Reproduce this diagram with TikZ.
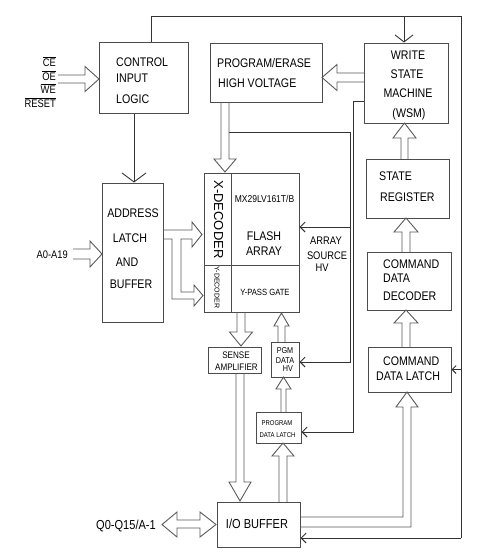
\documentclass[tikz,border=0pt]{standalone}
\usepackage{fontspec}
\usepackage{graphicx}
\setmainfont{Liberation Sans}[FakeStretch=0.85]
\newfontfamily\plainsf{Liberation Sans}
\usetikzlibrary{arrows.meta}
\newcommand\fsz[1]{\fontsize{#1}{#1}\selectfont}
\newcommand\vhollow[6]{\draw[harrow] ({#1-#5},#2) -- ({#1-#5},#3) -- ({#1-#6},#3) -- (#1,#4) -- ({#1+#6},#3) -- ({#1+#5},#3) -- ({#1+#5},#2);}
\newcommand\hhollow[6]{\draw[harrow] (#2,{#1-#5}) -- (#3,{#1-#5}) -- (#3,{#1-#6}) -- (#4,#1) -- (#3,{#1+#6}) -- (#3,{#1+#5}) -- (#2,{#1+#5});}
\tikzset{
  box/.style={draw=black!70, line width=1pt, inner sep=0pt},
  divline/.style={draw=black!70, line width=1pt},
  harrow/.style={draw=black!65, line width=0.9pt, line join=miter},
  conn/.style={draw=black!80, line width=0.9pt},
  tbig/.style={-{Straight Barb[length=9pt,width=24pt]}},
  tmid/.style={-{Straight Barb[length=7pt,width=18pt]}},
  tsmall/.style={-{Straight Barb[length=5pt,width=10pt]}},
  ttiny/.style={-{Straight Barb[length=4pt,width=8pt]}},
  tb/.style={inner sep=0pt, anchor=base, font=\fsz{12.5}},
  tw/.style={inner sep=0pt, anchor=base west, font=\fsz{12.5}},
  te/.style={inner sep=0pt, anchor=base east, font=\fsz{11}},
}
\begin{document}
\begin{tikzpicture}[x=1pt,y=-1pt]
\useasboundingbox (0,0) rectangle (490,552);

% boxes
\node[box, minimum width=89pt, minimum height=71pt] (ctrl) at (143.5,77.5) {};
\node[box, minimum width=112pt, minimum height=59pt] (pe) at (266,72.5) {};
\node[box, minimum width=84pt, minimum height=80pt] (wsm) at (406,83) {};
\node[box, minimum width=83pt, minimum height=59pt] (sreg) at (407.5,188.5) {};
\node[box, minimum width=84pt, minimum height=58pt] (cdd) at (409,281) {};
\node[box, minimum width=83pt, minimum height=45pt] (cdl) at (409.5,369.5) {};
\node[box, minimum width=61pt, minimum height=139pt] (addr) at (132.5,252.5) {};
\node[box, minimum width=95pt, minimum height=139pt] (flash) at (251.5,242.5) {};
\draw[divline] (231,173) -- (231,312);
\draw[divline] (204,265) -- (299,265);
\node[box, minimum width=53pt, minimum height=26pt] (sense) at (234.5,360) {};
\node[box, minimum width=28pt, minimum height=35pt] (pgm) at (285,359.5) {};
\node[box, minimum width=45pt, minimum height=31pt] (pdl) at (278.5,427.5) {};
\node[box, minimum width=83pt, minimum height=45pt] (io) at (258.5,524.5) {};

% texts
\node[te] (ce) at (56,66) {$\overline{\mbox{CE}}$};
\node[te] (oe) at (56,80) {$\overline{\mbox{OE}}$};
\node[te] (we) at (56,93) {$\overline{\mbox{WE}}$};
\node[te] (reset) at (56,107) {$\overline{\mbox{RESET}}$};

\node[tw] (t1) at (116,66.5) {CONTROL};
\node[tw] (t2) at (116,82.5) {INPUT};
\node[tw] (t3) at (116,103.5) {LOGIC};

\node[tw] (t4) at (217,67.5) {PROGRAM/ERASE};
\node[tw] (t5) at (218,87.5) {HIGH VOLTAGE};

\node[tb] (t6) at (408,59.5) {WRITE};
\node[tb] (t7) at (407,78.5) {STATE};
\node[tb] (t8) at (408,97.5) {MACHINE};
\node[tb] (t9) at (409,117.5) {(WSM)};

\node[tw] (t10) at (379,180.5) {STATE};
\node[tw] (t11) at (380,201.5) {REGISTER};

\node[tw] (t12) at (383,268.5) {COMMAND};
\node[tw] (t13) at (383,282.5) {DATA};
\node[tw] (t14) at (383,300.5) {DECODER};

\node[tw] (t15) at (383,365.5) {COMMAND};
\node[tw] (t16) at (376,380.5) {DATA LATCH};

\node[tb] (t17) at (133,217.5) {ADDRESS};
\node[tb] (t18) at (130,242.5) {LATCH};
\node[tb] (t19) at (127,266.5) {AND};
\node[tb] (t20) at (131,288.5) {BUFFER};

\node[te] (a019) at (68,258) {A0-A19};

\node[tb, font=\fsz{10}] (t21) at (264.5,202.5) {MX29LV161T/B};
\node[tb] (t22) at (264,240.5) {FLASH};
\node[tb] (t23) at (264,255.5) {ARRAY};
\node[tb, font=\fsz{9}] (t24) at (265,295) {Y-PASS GATE};
\node[inner sep=0pt, rotate=-90, font=\plainsf\fsz{13}] (xdec) at (218.5,219.5) {X-DECODER};
\node[inner sep=0pt, rotate=-90, font=\plainsf\fsz{7}] (ydec) at (217,287.5) {Y-DECODER};

\node[tb, font=\fsz{11}] (t25) at (326,244) {ARRAY};
\node[tb, font=\fsz{11}] (t26) at (327,259) {SOURCE};
\node[tb, font=\fsz{11}] (t27) at (322,271) {HV};

\node[tb, font=\fsz{9.5}] (t28) at (236,358.5) {SENSE};
\node[tb, font=\fsz{9.5}] (t29) at (236.5,370.5) {AMPLIFIER};

\node[tb, font=\fsz{8.5}] (t30) at (285,353) {PGM};
\node[tb, font=\fsz{8.5}] (t31) at (285,363) {DATA};
\node[tb, font=\fsz{8.5}] (t32) at (288,371) {HV};

\node[tb, font=\fsz{7}] (t33) at (277,425.5) {PROGRAM};
\node[tb, font=\fsz{7}] (t34) at (277.5,437.5) {DATA LATCH};

\node[tb, font=\fsz{13}] (t35) at (257,528) {I/O BUFFER};
\node[te, font=\fsz{13}] (q0) at (156,529.5) {Q0-Q15/A-1};

% thin connectors
\coordinate (tr) at (461,16);
\coordinate (br) at (461,538);
\draw[conn, tbig] (ctrl.south -| 134,0) -- (addr.north -| 134,0);
\draw[conn] ([xshift=7.5pt]ctrl.north) |- (tr) -- (br);
\draw[conn, tsmall] (br) -- (br -| io.east);
\draw[conn, tmid] (tr -| 404,0) -- (wsm.north -| 404,0);
\draw[conn, ttiny] (cdl.east -| br) -- (cdl.east);

\coordinate (pv1) at (229,132);
\coordinate (pv2) at (350,132);
\coordinate (pv3) at (350,362);
\coordinate (pas) at (350,227);
\draw[conn, tsmall] (pv1) -- (pv2) -- (pv3) -- (pv3 -| pgm.east);
\draw[conn, tsmall] (pas) -- (pas -| flash.east);

\coordinate (wv1) at (353,101);
\coordinate (wv2) at (353,432);
\draw[conn, tsmall] (wv1 -| wsm.west) -- (wv1) -- (wv2) -- (wv2 -| pdl.east);

% hollow arrows
\hhollow{79}{58}{85}{99}{4}{12.5}
\hhollow{254}{73}{90}{102}{5}{13}
\hhollow{77.5}{364}{337}{322}{4.5}{13}
\vhollow{225}{102}{159}{172}{4}{11}
\vhollow{241}{312}{332}{346}{4}{11.5}
\vhollow{281.5}{342}{326}{313}{3.5}{7.5}
\vhollow{283.5}{412}{389}{377}{2.5}{7.5}
\vhollow{240}{373}{482}{501}{4}{11}
\vhollow{283}{502}{456}{443}{4}{11}
\vhollow{404.5}{159}{138}{123}{3.5}{11.5}
\vhollow{406}{252}{232}{218}{4}{12}
\vhollow{406}{347}{323}{310}{4}{12}

% address -> decoders (branched)
\draw[harrow] (163,230) -- (192,230) -- (192,222) -- (202,234.5) -- (192,247) -- (192,239) -- (181,239) -- (181,292) -- (194,292) -- (194,285) -- (203,295.5) -- (194,306) -- (194,299) -- (172,299) -- (172,239) -- (163,239);
% I/O -> command data latch
\draw[harrow] (300,517) -- (403,517) -- (403,407) -- (396,407) -- (407,392) -- (418,407) -- (411,407) -- (411,527) -- (300,527);
% Q0-Q15 double arrow
\draw[harrow] (177,520) -- (200,520) -- (200,512) -- (216,524.5) -- (200,537) -- (200,528) -- (177,528) -- (177,537) -- (162,524.5) -- (177,512) -- cycle;
\end{tikzpicture}
\end{document}
